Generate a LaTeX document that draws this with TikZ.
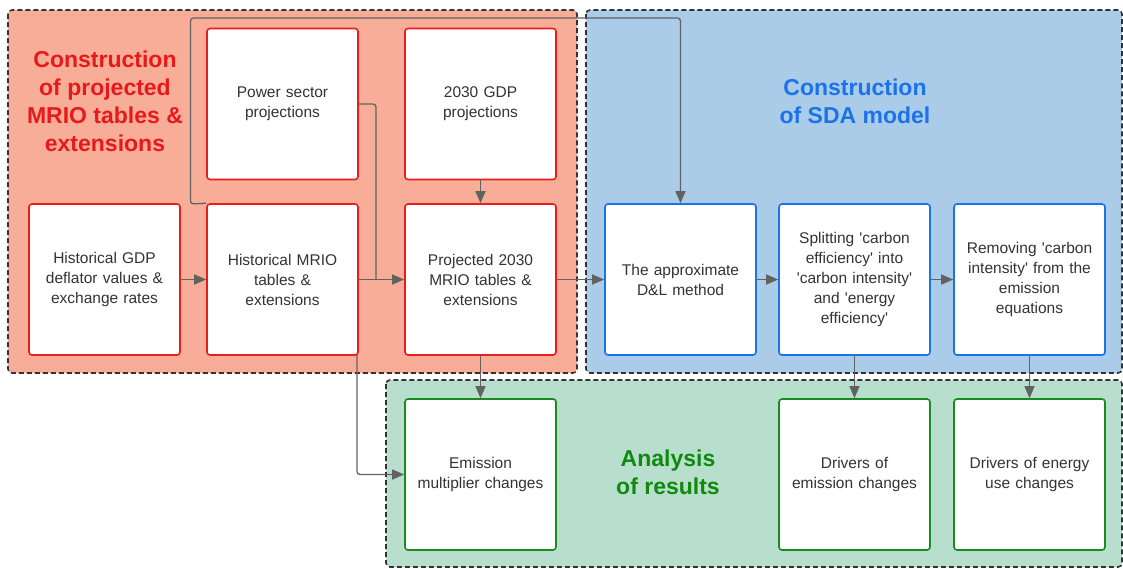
\documentclass[tikz,border=0pt]{standalone}
\usepackage{fontspec}
\setmainfont{Liberation Sans}
\usetikzlibrary{arrows.meta}
\definecolor{redfill}{HTML}{F7AD97}
\definecolor{bluefill}{HTML}{AACCE8}
\definecolor{greenfill}{HTML}{B8DFCD}
\definecolor{redline}{HTML}{EB1C1C}
\definecolor{blueline}{HTML}{1B74E4}
\definecolor{greenline}{HTML}{1A8C1E}
\definecolor{redtitle}{HTML}{E8191B}
\definecolor{bluetitle}{HTML}{1A73E8}
\definecolor{greentitle}{HTML}{0F8A0F}
\definecolor{conn}{HTML}{626262}
\definecolor{txt}{HTML}{333333}
\newcommand\sq{\textquotesingle}
\begin{document}
\begin{tikzpicture}[x=1pt,y=-1pt,
  grp/.style={draw=black!80,dashed,dash pattern=on 5pt off 3pt,line width=1.6pt,rounded corners=4pt},
  boxbase/.style={rectangle,fill=white,line width=1.6pt,rounded corners=3pt,minimum width=151pt,minimum height=151pt,
    align=center,text width=140pt,font=\fontsize{15.5}{20}\selectfont,text=txt,inner sep=0pt},
  rbox/.style={boxbase,draw=redline},
  bbox/.style={boxbase,draw=blueline},
  gbox/.style={boxbase,draw=greenline},
  ttl/.style={align=center,font=\fontsize{23}{28}\selectfont\bfseries},
  arr/.style={draw=conn,line width=1.3pt,-{Triangle[length=12pt,width=10pt]}},
  ln/.style={draw=conn,line width=1.3pt,rounded corners=3pt}
]
\useasboundingbox (0,0) rectangle (1123,568);
% groups
\draw[grp,fill=redfill] (8,10) rectangle (577,373);
\draw[grp,fill=bluefill] (586,10) rectangle (1122,373);
\draw[grp,fill=greenfill] (386,380) rectangle (1122,567);
% titles
\node[ttl,text=redtitle] (t1) at (105,101) {Construction\\of projected\\MRIO tables \&\\extensions};
\node[ttl,text=bluetitle] (t2) at (855,101) {Construction\\of SDA model};
\node[ttl,text=greentitle] (t3) at (668,472) {Analysis\\of results};
% nodes
\node[rbox] (hgdp) at (104.5,279.5) {Historical GDP\\deflator values \&\\exchange rates};
\node[rbox] (hmrio) at (282.5,279.5) {Historical MRIO\\tables \&\\extensions};
\node[rbox] (pow) at (282.5,104) {Power sector\\projections\\[-16pt]\mbox{}};
\node[rbox] (gdp) at (480.5,104) {2030 GDP\\projections\\[-16pt]\mbox{}};
\node[rbox] (proj) at (480.5,279.5) {Projected 2030\\MRIO tables \&\\extensions};
\node[bbox] (dl) at (680.5,279.5) {The approximate\\D\&L method};
\node[bbox] (split) at (854.5,279.5) {Splitting \sq carbon\\efficiency\sq{} into\\\sq carbon intensity\sq\\and \sq energy\\efficiency\sq};
\node[bbox] (rem) at (1029.5,279.5) {Removing \sq carbon\\intensity\sq{} from the\\emission\\equations};
\node[gbox] (emm) at (480.5,474.5) {Emission\\multiplier changes\\[6pt]};
\node[gbox] (dem) at (854.5,474.5) {Drivers of\\emission changes\\[6pt]};
\node[gbox] (den) at (1029.5,474.5) {Drivers of energy\\use changes\\[6pt]};
% connectors
\coordinate (pj) at (376,279.5);
\draw[arr] (hgdp) -- (hmrio);
\draw[arr] (hmrio) -- (proj);
\draw[ln] (pow.east) -- (376,104) -- (pj);
\draw[arr] (gdp) -- (proj);
\draw[arr] (proj) -- (dl);
\draw[arr] (dl) -- (split);
\draw[arr] (split) -- (rem);
\draw[arr,rounded corners=3pt] (hmrio.north west) -- (190.5,204) -- (190.5,18) -- (680.5,18) -- (dl.north);
\draw[arr,rounded corners=3pt] (357,355) -- (357,474.5) -- (emm.west);
\draw[arr] (proj) -- (emm);
\draw[arr] (split) -- (dem);
\draw[arr] (rem) -- (den);
\end{tikzpicture}
\end{document}
